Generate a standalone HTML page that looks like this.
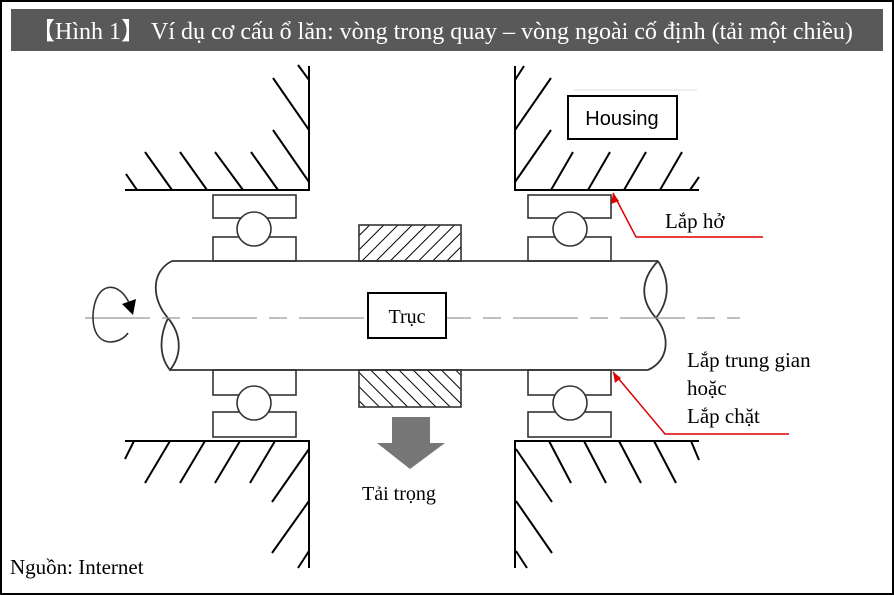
<!DOCTYPE html>
<html><head><meta charset="utf-8"><style>
body{margin:0;background:#fff;}
svg{display:block;}
</style></head><body>
<svg width="894" height="595" viewBox="0 0 894 595" xmlns="http://www.w3.org/2000/svg">
<rect x="1" y="1" width="892" height="593" fill="#fff" stroke="#000" stroke-width="2"/>
<rect x="11" y="9" width="872" height="42" fill="#595959"/>
<text x="31" y="39" font-family="Liberation Serif, serif" font-size="24" fill="#fff">【Hình 1】 Ví dụ cơ cấu ổ lăn: vòng trong quay – vòng ngoài cố định (tải một chiều)</text>

<g stroke="#000" stroke-width="2" fill="none">
<!-- left top housing -->
<path d="M125 190 H309 V66"/>
<path d="M126 174 L137 190 M145 152 L172 190 M180 152 L207 190 M215 152 L243 190 M251 152 L278 190 M273 130 L309 182 M273 78 L309 130 M298 65 L309 80"/>
<!-- right top housing -->
<path d="M699 190 H515 V66"/>
<path d="M515 182 L551 130 M515 130 L551 78 M515 80 L524 66 M551 190 L573 152 M588 190 L610 152 M624 190 L646 152 M660 190 L682 152 M690 190 L699 177"/>
<!-- left bottom housing -->
<path d="M125 441 H309 V568"/>
<path d="M125 459 L134 441 M145 483 L170 441 M180 483 L205 441 M215 483 L240 441 M250 483 L275 441 M272 502 L309 449 M272 553 L309 501 M298 568 L309 551"/>
<!-- right bottom housing -->
<path d="M699 441 H515 V568"/>
<path d="M516 449 L552 502 M516 501 L552 553 M516 551 L527 568 M549 441 L571 483 M584 441 L606 483 M619 441 L641 483 M654 441 L676 483 M691 441 L699 460"/>
</g>
<line x1="574" y1="90" x2="697" y2="90" stroke="#ddd" stroke-width="1"/>
<g stroke="#333" stroke-width="1.6" fill="#fff">
<rect x="213" y="195" width="83" height="23"/><rect x="213" y="237" width="83" height="24"/><circle cx="254" cy="229" r="17"/>
<rect x="528" y="195" width="83" height="23"/><rect x="528" y="237" width="83" height="24"/><circle cx="570" cy="229" r="17"/>
<rect x="213" y="370" width="83" height="25"/><rect x="213" y="412" width="83" height="25"/><circle cx="254" cy="403" r="17"/>
<rect x="528" y="370" width="83" height="25"/><rect x="528" y="412" width="83" height="25"/><circle cx="570" cy="403" r="17"/>
</g>
<defs>
<pattern id="h1" width="10" height="10" patternUnits="userSpaceOnUse" patternTransform="rotate(45)"><line x1="0" y1="0" x2="0" y2="10" stroke="#000" stroke-width="2"/></pattern>
<pattern id="h2" width="10" height="10" patternUnits="userSpaceOnUse" patternTransform="rotate(-45)"><line x1="0" y1="0" x2="0" y2="10" stroke="#000" stroke-width="2"/></pattern>
</defs>
<rect x="359" y="225" width="102" height="36" fill="url(#h1)" stroke="#333" stroke-width="1.6"/>
<rect x="359" y="370" width="102" height="37" fill="url(#h2)" stroke="#333" stroke-width="1.6"/>
<g stroke="#333" stroke-width="1.8" fill="none">
<path d="M172 261 H658 M170 370 H648"/>
<path d="M172 261 C150 272 152 300 168 318 C160 335 158 355 170 370 C182 355 182 335 168 318"/>
<path d="M658 261 C640 280 640 300 656 318 C670 300 670 280 658 261 M656 318 C670 335 670 360 648 370"/>
</g>
<line x1="85" y1="318" x2="740" y2="318" stroke="#999" stroke-width="1.3" stroke-dasharray="65,12,18,12"/>
<path d="M130 305 C120 280 95 280 93 315 C92 350 120 345 128 333" fill="none" stroke="#333" stroke-width="1.6"/>
<path d="M122 304 L136 299 L133 315 Z" fill="#000"/>
<rect x="368" y="293" width="78" height="45" fill="#fff" stroke="#000" stroke-width="2"/>
<text x="407" y="323" text-anchor="middle" font-family="Liberation Serif, serif" font-size="20">Trục</text>
<rect x="568" y="96" width="109" height="43" fill="#fff" stroke="#000" stroke-width="2"/>
<text x="622" y="125" text-anchor="middle" font-family="Liberation Sans, sans-serif" font-size="20">Housing</text>
<path d="M392 417 H430 V443 H445 L410 469 L377 443 H392 Z" fill="#777"/>
<text x="362" y="500" font-family="Liberation Serif, serif" font-size="20">Tải trọng</text>
<path d="M613 193 L636 237 H763" fill="none" stroke="#d00" stroke-width="1.5"/>
<path d="M613 193 L611 204 L619 201 Z" fill="#d00"/>
<path d="M613 372 L665 434 H789" fill="none" stroke="#d00" stroke-width="1.5"/>
<path d="M613 372 L615 383 L621 378 Z" fill="#d00"/>
<g font-family="Liberation Serif, serif" font-size="21">
<text x="665" y="228">Lắp hở</text>
<text x="687" y="367">Lắp trung gian</text>
<text x="687" y="395">hoặc</text>
<text x="687" y="423">Lắp chặt</text>
<text x="10" y="574">Nguồn: Internet</text>
</g>
</svg>
</body></html>
